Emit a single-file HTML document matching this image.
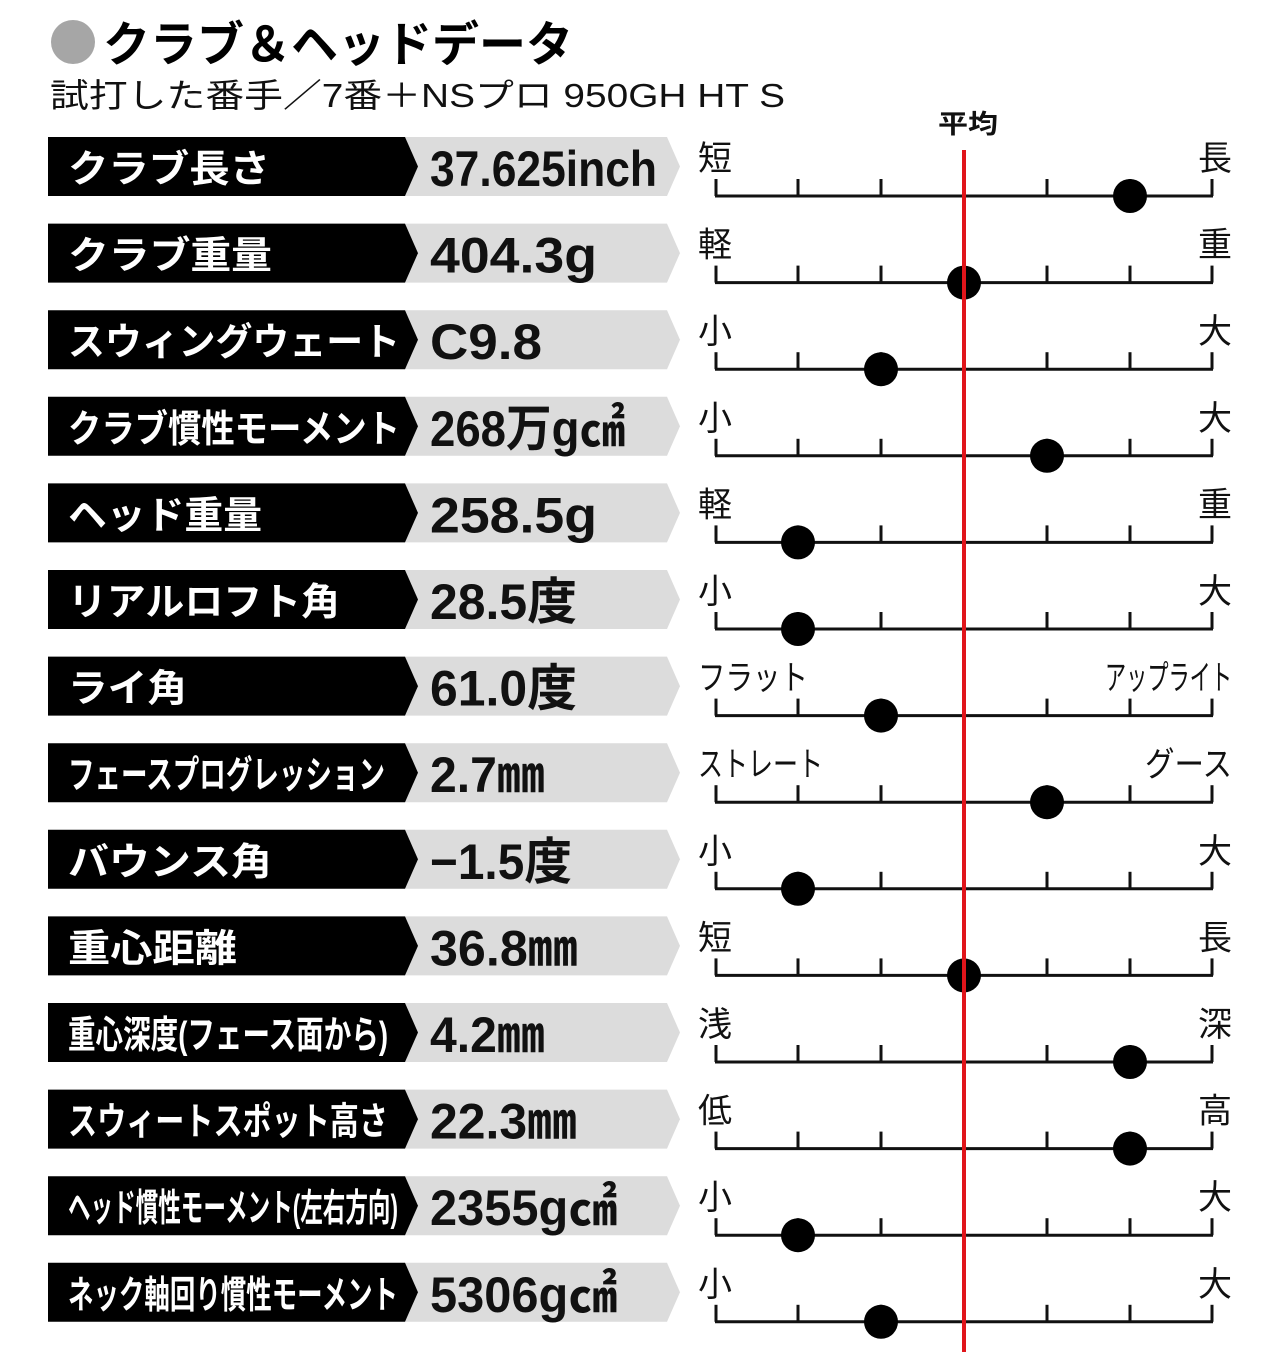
<!DOCTYPE html>
<html><head><meta charset="utf-8"><style>
html,body{margin:0;padding:0;background:#fff;}
svg{display:block;}
.lb{font-family:"Liberation Sans","Noto Sans CJK JP",sans-serif;font-weight:bold;font-size:38px;fill:#fff;}
.vl{font-family:"Liberation Sans","Noto Sans CJK JP",sans-serif;font-weight:bold;font-size:50px;fill:#111;}
.sc{font-family:"Liberation Sans","Noto Sans CJK JP",sans-serif;font-size:34px;fill:#111;}
</style></head><body>
<svg width="1280" height="1352" viewBox="0 0 1280 1352" xmlns="http://www.w3.org/2000/svg">
<defs>
<g id="row">
<polygon points="405,0 667,0 680,29.5 667,59 405,59" fill="#dcdcdc"/>
<polygon points="48,0 405,0 418,29.5 405,59 48,59" fill="#000"/>
<g stroke="#111" stroke-width="3" fill="none">
<line x1="715" y1="59" x2="1213" y2="59"/>
<line x1="716" y1="42" x2="716" y2="59"/><line x1="798" y1="42" x2="798" y2="59"/><line x1="881" y1="42" x2="881" y2="59"/><line x1="964" y1="42" x2="964" y2="59"/><line x1="1047" y1="42" x2="1047" y2="59"/><line x1="1130" y1="42" x2="1130" y2="59"/><line x1="1212" y1="42" x2="1212" y2="59"/>
</g>
</g>
</defs>
<circle cx="73" cy="42" r="22" fill="#a6a6a6"/>
<text x="103" y="61" font-family="'Liberation Sans','Noto Sans CJK JP',sans-serif" font-weight="bold" font-size="48" textLength="470" lengthAdjust="spacingAndGlyphs" fill="#000">クラブ＆ヘッドデータ</text>
<text x="50" y="107" font-family="'Liberation Sans','Noto Sans CJK JP',sans-serif" font-size="33" textLength="735" lengthAdjust="spacingAndGlyphs" fill="#111">試打した番手／7番＋NSプロ 950GH HT S</text>
<text x="938" y="133" font-family="'Liberation Sans','Noto Sans CJK JP',sans-serif" font-weight="bold" font-size="26" textLength="60" lengthAdjust="spacingAndGlyphs" fill="#111">平均</text>

<g transform="translate(0,137)"><use href="#row"/>
<text class="lb" x="68" y="45" textLength="202" lengthAdjust="spacingAndGlyphs">クラブ長さ</text>
<text class="vl" x="430" y="49" textLength="227" lengthAdjust="spacingAndGlyphs">37.625inch</text>
<text class="sc" x="698" y="33">短</text><text class="sc" x="1232" y="33" text-anchor="end">長</text>
<circle cx="1130" cy="59" r="17"/></g>

<g transform="translate(0,223.6)"><use href="#row"/>
<text class="lb" x="68" y="45" textLength="204" lengthAdjust="spacingAndGlyphs">クラブ重量</text>
<text class="vl" x="430" y="49" textLength="167" lengthAdjust="spacingAndGlyphs">404.3g</text>
<text class="sc" x="698" y="33">軽</text><text class="sc" x="1232" y="33" text-anchor="end">重</text>
<circle cx="964" cy="59" r="17"/></g>

<g transform="translate(0,310.2)"><use href="#row"/>
<text class="lb" x="68" y="45" textLength="332" lengthAdjust="spacingAndGlyphs">スウィングウェート</text>
<text class="vl" x="430" y="49" textLength="112" lengthAdjust="spacingAndGlyphs">C9.8</text>
<text class="sc" x="698" y="33">小</text><text class="sc" x="1232" y="33" text-anchor="end">大</text>
<circle cx="881" cy="59" r="17"/></g>

<g transform="translate(0,396.8)"><use href="#row"/>
<text class="lb" x="68" y="45" textLength="332" lengthAdjust="spacingAndGlyphs">クラブ慣性モーメント</text>
<text class="vl" x="430" y="49" textLength="195" lengthAdjust="spacingAndGlyphs">268万g㎠</text>
<text class="sc" x="698" y="33">小</text><text class="sc" x="1232" y="33" text-anchor="end">大</text>
<circle cx="1047" cy="59" r="17"/></g>

<g transform="translate(0,483.4)"><use href="#row"/>
<text class="lb" x="68" y="45" textLength="194" lengthAdjust="spacingAndGlyphs">ヘッド重量</text>
<text class="vl" x="430" y="49" textLength="167" lengthAdjust="spacingAndGlyphs">258.5g</text>
<text class="sc" x="698" y="33">軽</text><text class="sc" x="1232" y="33" text-anchor="end">重</text>
<circle cx="798" cy="59" r="17"/></g>

<g transform="translate(0,570)"><use href="#row"/>
<text class="lb" x="68" y="45" textLength="272" lengthAdjust="spacingAndGlyphs">リアルロフト角</text>
<text class="vl" x="430" y="49" textLength="147" lengthAdjust="spacingAndGlyphs">28.5度</text>
<text class="sc" x="698" y="33">小</text><text class="sc" x="1232" y="33" text-anchor="end">大</text>
<circle cx="798" cy="59" r="17"/></g>

<g transform="translate(0,656.6)"><use href="#row"/>
<text class="lb" x="68" y="45" textLength="119" lengthAdjust="spacingAndGlyphs">ライ角</text>
<text class="vl" x="430" y="49" textLength="147" lengthAdjust="spacingAndGlyphs">61.0度</text>
<text class="sc" x="698" y="33" textLength="110" lengthAdjust="spacingAndGlyphs">フラット</text><text class="sc" x="1105" y="33" textLength="127" lengthAdjust="spacingAndGlyphs">アップライト</text>
<circle cx="881" cy="59" r="17"/></g>

<g transform="translate(0,743.2)"><use href="#row"/>
<text class="lb" x="68" y="45" textLength="317" lengthAdjust="spacingAndGlyphs">フェースプログレッション</text>
<text class="vl" x="430" y="49" textLength="115" lengthAdjust="spacingAndGlyphs">2.7㎜</text>
<text class="sc" x="698" y="33" textLength="125" lengthAdjust="spacingAndGlyphs">ストレート</text><text class="sc" x="1145" y="33" textLength="87" lengthAdjust="spacingAndGlyphs">グース</text>
<circle cx="1047" cy="59" r="17"/></g>

<g transform="translate(0,829.8)"><use href="#row"/>
<text class="lb" x="68" y="45" textLength="204" lengthAdjust="spacingAndGlyphs">バウンス角</text>
<text class="vl" x="430" y="49" textLength="142" lengthAdjust="spacingAndGlyphs">−1.5度</text>
<text class="sc" x="698" y="33">小</text><text class="sc" x="1232" y="33" text-anchor="end">大</text>
<circle cx="798" cy="59" r="17"/></g>

<g transform="translate(0,916.4)"><use href="#row"/>
<text class="lb" x="68" y="45" textLength="169" lengthAdjust="spacingAndGlyphs">重心距離</text>
<text class="vl" x="430" y="49" textLength="148" lengthAdjust="spacingAndGlyphs">36.8㎜</text>
<text class="sc" x="698" y="33">短</text><text class="sc" x="1232" y="33" text-anchor="end">長</text>
<circle cx="964" cy="59" r="17"/></g>

<g transform="translate(0,1003)"><use href="#row"/>
<text class="lb" x="68" y="45" textLength="320" lengthAdjust="spacingAndGlyphs">重心深度(フェース面から)</text>
<text class="vl" x="430" y="49" textLength="115" lengthAdjust="spacingAndGlyphs">4.2㎜</text>
<text class="sc" x="698" y="33">浅</text><text class="sc" x="1232" y="33" text-anchor="end">深</text>
<circle cx="1130" cy="59" r="17"/></g>

<g transform="translate(0,1089.6)"><use href="#row"/>
<text class="lb" x="68" y="45" textLength="320" lengthAdjust="spacingAndGlyphs">スウィートスポット高さ</text>
<text class="vl" x="430" y="49" textLength="147" lengthAdjust="spacingAndGlyphs">22.3㎜</text>
<text class="sc" x="698" y="33">低</text><text class="sc" x="1232" y="33" text-anchor="end">高</text>
<circle cx="1130" cy="59" r="17"/></g>

<g transform="translate(0,1176.2)"><use href="#row"/>
<text class="lb" x="68" y="45" textLength="330" lengthAdjust="spacingAndGlyphs">ヘッド慣性モーメント(左右方向)</text>
<text class="vl" x="430" y="49" textLength="187" lengthAdjust="spacingAndGlyphs">2355g㎠</text>
<text class="sc" x="698" y="33">小</text><text class="sc" x="1232" y="33" text-anchor="end">大</text>
<circle cx="798" cy="59" r="17"/></g>

<g transform="translate(0,1262.8)"><use href="#row"/>
<text class="lb" x="68" y="45" textLength="330" lengthAdjust="spacingAndGlyphs">ネック軸回り慣性モーメント</text>
<text class="vl" x="430" y="49" textLength="187" lengthAdjust="spacingAndGlyphs">5306g㎠</text>
<text class="sc" x="698" y="33">小</text><text class="sc" x="1232" y="33" text-anchor="end">大</text>
<circle cx="881" cy="59" r="17"/></g>

<rect x="962" y="150" width="4" height="1202" fill="#e0151b"/>
</svg>
</body></html>
